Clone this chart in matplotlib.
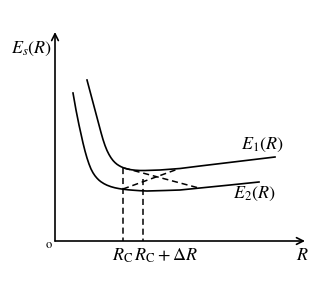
import matplotlib.pyplot as plt

plt.rcParams['mathtext.fontset'] = 'stix'
plt.rcParams['font.family'] = ['STIXGeneral', 'DejaVu Serif']

# curve points (pixel-like coordinates, y down)
e1_x = [87, 89, 91, 93, 95, 97, 99, 101, 103, 105, 107, 109, 111, 113, 115,
        117, 119, 121, 124, 127, 131, 135, 140, 145, 160, 180, 200, 225, 250, 275]
e1_y = [80, 87.5, 95, 102.5, 110, 117.5, 125, 132.5, 139.5, 145.5, 150.5,
        154.5, 157.8, 160.5, 162.6, 164.3, 165.6, 166.7, 168, 168.9, 169.7,
        170.2, 170.5, 170.5, 170, 168.5, 166, 163, 160, 157]
e2_x = [73, 74.5, 76, 77.5, 79, 81, 83, 85, 87, 89, 91, 93, 95, 97, 99, 101,
        104, 107, 111, 115, 119, 123, 128, 133, 140, 147, 165, 180, 200, 230, 259]
e2_y = [93, 101.5, 110, 117.5, 125, 134, 143, 151, 158, 164, 169, 172.8, 175.8,
        178.2, 180.2, 181.8, 183.7, 185.2, 186.7, 187.8, 188.6, 189.2, 189.8,
        190.2, 190.7, 191, 190.5, 190, 188, 185, 182]

# diabatic (dashed) continuations
d1_x, d1_y = [124, 197], [168, 187.5]
d2_x, d2_y = [123, 178], [189, 169]
rc_x, rc_top = 123, 168
rcd_x, rcd_top = 143, 179

x0, y0 = 55, 241      # origin
x_end, y_top = 305, 32

fig = plt.figure(figsize=(3.3, 2.89), dpi=100)
ax = fig.add_axes([0, 0, 1, 1])
ax.set_xlim(0, 330)
ax.set_ylim(289, 0)
ax.axis('off')

arrow = dict(arrowstyle='->', lw=1.2, color='black', mutation_scale=12,
             shrinkA=0, shrinkB=0)
ax.annotate('', xy=(x_end, y0), xytext=(x0, y0), arrowprops=arrow)
ax.annotate('', xy=(x0, y_top), xytext=(x0, y0), arrowprops=arrow)

ax.plot(e1_x, e1_y, color='black', lw=1.2)
ax.plot(e2_x, e2_y, color='black', lw=1.2)
dash = (0, (4, 2.5))
ax.plot(d1_x, d1_y, color='black', lw=1.1, ls=dash)
ax.plot(d2_x, d2_y, color='black', lw=1.1, ls=dash)
ax.plot([rc_x, rc_x], [rc_top, y0], color='black', lw=1.1, ls=dash)
ax.plot([rcd_x, rcd_x], [rcd_top, y0], color='black', lw=1.1, ls=dash)

fs = 13
ax.text(31, 49, r'$E_s(R)$', fontsize=fs, ha='center', va='center')
ax.text(262, 145, r'$E_1(R)$', fontsize=fs, ha='center', va='center')
ax.text(254, 194, r'$E_2(R)$', fontsize=fs, ha='center', va='center')
ax.text(49, 245, 'o', fontsize=9, ha='center', va='center')
ax.text(302, 256, r'$R$', fontsize=fs, ha='center', va='center')
ax.text(112, 256, r'$R_\mathrm{C}\,R_\mathrm{C}+\Delta R$', fontsize=fs,
        ha='left', va='center')

fig.savefig('out.png', dpi=100)
